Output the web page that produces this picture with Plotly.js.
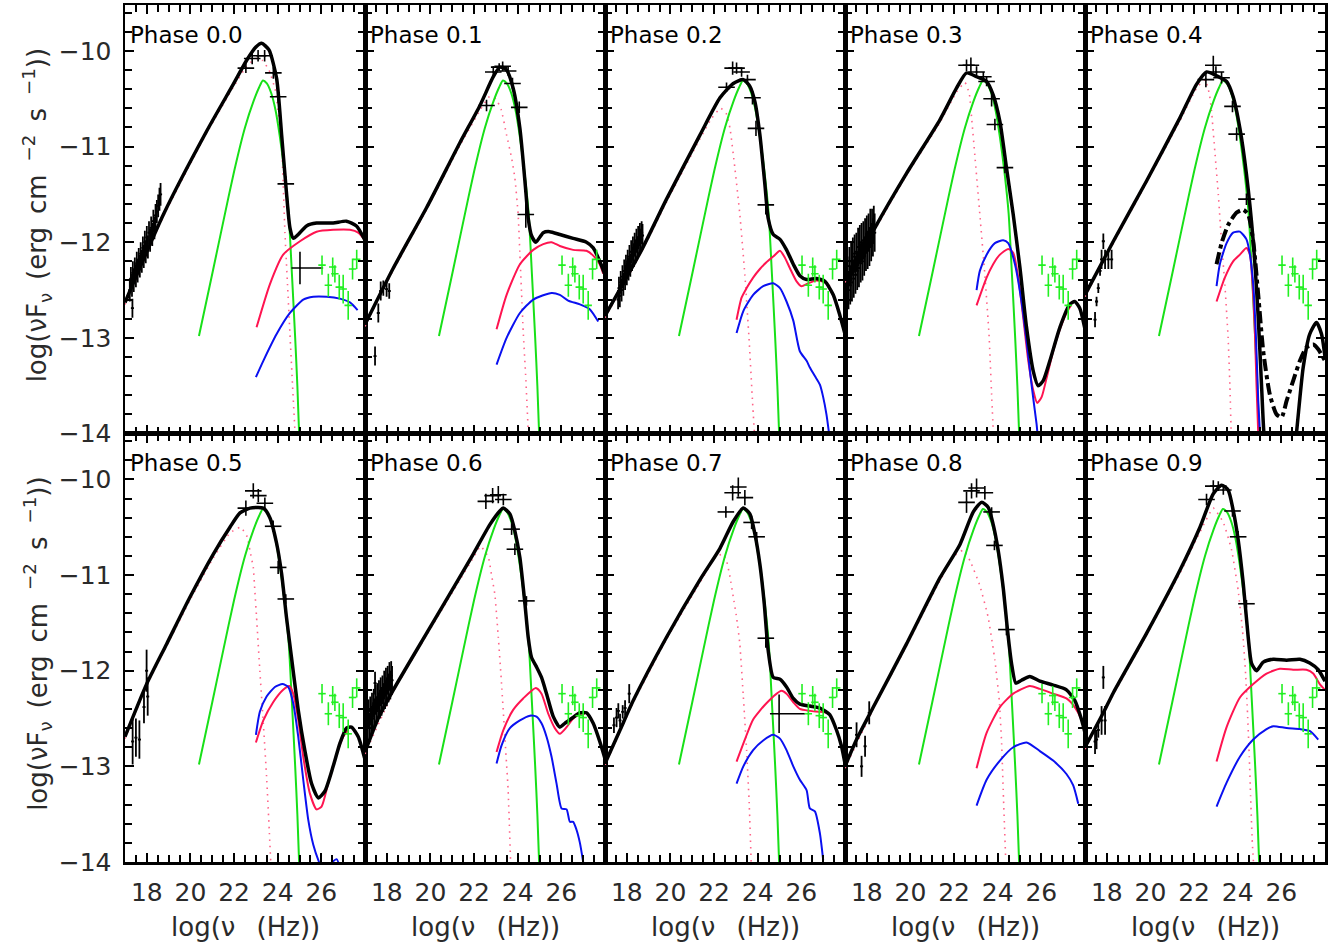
<!DOCTYPE html>
<html>
<head>
<meta charset="utf-8">
<script src="https://cdn.plot.ly/plotly-3.0.1.min.js"></script>
<style>html,body{margin:0;padding:0;background:#fff;}#chart{width:1338px;height:948px;}</style>
</head>
<body>
<div id="chart"></div>
<script>
// ---------------- DATA ----------------
const phases = ['0.0','0.1','0.2','0.3','0.4','0.5','0.6','0.7','0.8','0.9'];
const xTickVals = [18,20,22,24,26];
const xTickText = ['18','20','22','24','26'];
const yTickVals = [-14,-13,-12,-11,-10];
const yTickText = ['\u221214','\u221213','\u221212','\u221211','\u221210'];

// green component (identical in every phase)
const greenX = [20.39,21.0,21.5,22.0,22.5,22.9,23.15,23.32,23.5,23.7,23.9,24.1,24.3,24.5,24.65,24.8,24.9,24.98];
const greenY = [-12.98,-12.33,-11.79,-11.26,-10.8,-10.52,-10.38,-10.31,-10.34,-10.44,-10.62,-10.9,-11.25,-11.7,-12.33,-13.0,-13.5,-14.0];

// TeV data (identical in every phase)
const tevX = [26.03,26.32,26.52,26.62,26.82,27.0,27.23,27.43,27.62];
const tevY = [-12.24,-12.45,-12.26,-12.33,-12.47,-12.49,-12.66,-12.28,-12.18];
const tevYerr = [0.1,0.12,0.1,0.09,0.13,0.15,0.15,0.11,0.1];
const tevXerr = [0.17,0.17,0.17,0.17,0.17,0.17,0.17,0.17,0.17];

// ---- Phase 0.0
const tot00x = [17,18.76,20.74,21.96,22.57,23.0,23.26,23.6,23.95,24.18,24.37,24.56,24.72,24.94,25.32,25.78,26.54,27.15,27.61,28.0];
const tot00y = [-12.63,-11.71,-10.84,-10.35,-10.1,-9.96,-9.92,-9.99,-10.29,-10.88,-11.4,-11.85,-11.96,-11.92,-11.83,-11.8,-11.8,-11.78,-11.83,-11.98];
const red00x = [23.03,23.64,24.25,25.02,25.78,26.54,27.31,27.69,28.0];
const red00y = [-12.89,-12.44,-12.13,-11.99,-11.89,-11.87,-11.87,-11.9,-11.98];
const blue00x = [23.0,23.34,23.95,24.56,25.17,25.63,26.24,26.85,27.31,27.66];
const blue00y = [-13.41,-13.24,-12.96,-12.74,-12.6,-12.57,-12.57,-12.59,-12.63,-12.71];
const dot00x = [17,18.76,20.74,21.96,22.57,23.0,23.3,23.6,23.9,24.18,24.33,24.45,24.56,24.68,24.8];
const dot00y = [-12.65,-11.73,-10.86,-10.38,-10.16,-10.08,-10.1,-10.2,-10.42,-11.0,-11.9,-12.45,-12.96,-13.5,-14.02];
const xr00x = [17.22,17.27,17.32,17.36,17.4,17.45,17.5,17.54,17.58,17.63,17.68,17.72,17.77,17.82,17.86,17.91,17.95,18.0,18.05,18.1,18.15,18.2,18.25,18.3,18.35,18.4,18.46,18.52,18.58,18.63,17.34];
const xr00y = [-12.5,-12.38,-12.45,-12.32,-12.4,-12.28,-12.35,-12.22,-12.3,-12.18,-12.25,-12.12,-12.2,-12.06,-12.15,-12.0,-12.1,-11.95,-12.05,-11.9,-11.98,-11.85,-11.92,-11.78,-11.85,-11.72,-11.68,-11.62,-11.55,-11.5,-12.69];
const xr00e = [0.12,0.12,0.12,0.12,0.12,0.12,0.12,0.12,0.12,0.12,0.12,0.12,0.12,0.12,0.12,0.12,0.12,0.12,0.12,0.12,0.12,0.12,0.12,0.12,0.12,0.12,0.12,0.12,0.12,0.12,0.1];
const fe00x = [22.54,22.83,23.1,23.4,23.8,24.02,24.37];
const fe00y = [-10.18,-10.08,-10.05,-10.05,-10.23,-10.48,-11.39];
const fe00e = [0.05,0.06,0.06,0.06,0.06,0.06,0.08];
const big00 = {x:[25.02], y:[-12.27], xm:[0.39], xp:[1.06], e:[0.17]};

// ---- Phase 0.1
const tot01x = [17,18.3,19.82,21.35,22.27,22.88,23.18,23.49,23.79,24.1,24.33,24.48,24.63,24.83,25.17,25.47,25.93,26.54,27.15,27.46,27.76,28.0];
const tot01y = [-12.86,-12.27,-11.64,-10.96,-10.57,-10.27,-10.17,-10.2,-10.39,-10.81,-11.36,-11.75,-11.93,-12.0,-11.9,-11.89,-11.92,-11.96,-12.0,-12.06,-12.2,-12.34];
const red01x = [23.03,23.49,24.1,24.71,25.17,25.55,25.93,26.54,27.15,27.46,27.76,27.92];
const red01y = [-12.91,-12.55,-12.23,-12.08,-12.02,-12.0,-12.04,-12.08,-12.09,-12.14,-12.23,-12.33];
const blue01x = [23.03,23.49,24.1,24.71,25.55,25.93,26.31,26.85,27.3,27.69];
const blue01y = [-13.28,-13.0,-12.74,-12.6,-12.53,-12.55,-12.61,-12.65,-12.7,-12.83];
const dot01x = [17,18.3,19.82,21.35,22.27,22.7,23.0,23.25,23.49,23.72,23.87,24.02,24.1,24.18,24.25,24.36,24.48];
const dot01y = [-12.88,-12.29,-11.66,-10.99,-10.62,-10.48,-10.5,-10.62,-10.88,-11.12,-11.33,-11.71,-12.13,-12.55,-12.93,-13.38,-13.97];
const xr01x = [17.61,17.72,17.84,17.99,18.11,17.46];
const xr01y = [-12.74,-12.51,-12.48,-12.49,-12.51,-13.19];
const xr01e = [0.1,0.1,0.08,0.08,0.08,0.1];
const fe01x = [22.57,22.88,23.15,23.31,23.56,23.76,24.07,24.37];
const fe01y = [-10.57,-10.22,-10.17,-10.16,-10.21,-10.34,-10.59,-11.71];
const fe01e = [0.06,0.06,0.04,0.05,0.05,0.06,0.06,0.14];

// ---- Phase 0.2
const tot02x = [17,18.68,19.82,21.35,22.27,22.88,23.34,23.64,23.87,24.1,24.33,24.48,24.71,25.02,25.32,25.63,25.93,26.24,26.69,27.08,27.46,27.76,28.0];
const tot02y = [-12.77,-12.08,-11.55,-10.88,-10.49,-10.34,-10.3,-10.37,-10.53,-10.88,-11.4,-11.75,-11.92,-11.97,-12.08,-12.23,-12.35,-12.39,-12.38,-12.41,-12.55,-12.76,-12.96];
const red02x = [23.03,23.26,23.49,23.79,24.1,24.4,24.71,25.02,25.24,25.47,25.78,26.0,26.31,26.69,27.08,27.3];
const red02y = [-12.81,-12.58,-12.48,-12.37,-12.28,-12.21,-12.15,-12.09,-12.16,-12.27,-12.41,-12.46,-12.43,-12.4,-12.42,-12.46];
const blue02x = [23.03,23.34,23.79,24.25,24.71,25.02,25.32,25.63,25.93,26.24,26.39,26.62,26.85,27.0,27.15,27.27];
const blue02y = [-12.95,-12.72,-12.55,-12.46,-12.43,-12.48,-12.62,-12.82,-13.14,-13.24,-13.31,-13.4,-13.49,-13.62,-13.8,-14.0];
const dot02x = [17,18.68,19.82,21.35,21.9,22.3,22.55,22.73,22.95,23.18,23.41,23.6,23.76,23.85];
const dot02y = [-12.79,-12.1,-11.58,-10.92,-10.7,-10.6,-10.65,-10.81,-11.22,-11.71,-12.34,-13.0,-13.66,-14.0];
const xr02x = [17.6,17.64,17.68,17.72,17.76,17.8,17.84,17.88,17.92,17.96,18.0,18.04,18.08,18.12,18.16,18.2,18.24,18.28,18.32,18.36,18.4,18.44,18.48,18.52,18.56,18.6,18.64,18.68,18.72];
const xr02y = [-12.6,-12.48,-12.56,-12.42,-12.5,-12.36,-12.44,-12.3,-12.38,-12.25,-12.33,-12.2,-12.28,-12.15,-12.24,-12.1,-12.18,-12.06,-12.14,-12.02,-12.1,-11.98,-12.06,-11.95,-12.02,-11.92,-11.98,-11.9,-11.93];
const xr02e = [0.1,0.12,0.12,0.12,0.12,0.12,0.12,0.12,0.12,0.12,0.12,0.12,0.12,0.12,0.12,0.12,0.12,0.12,0.12,0.12,0.12,0.12,0.12,0.12,0.12,0.12,0.12,0.12,0.12];
const fe02x = [22.57,22.85,23.03,23.26,23.53,23.76,23.92,24.37];
const fe02y = [-10.38,-10.18,-10.18,-10.22,-10.3,-10.49,-10.81,-11.61];
const fe02e = [0.05,0.07,0.06,0.05,0.05,0.07,0.08,0.1];

// ---- Phase 0.3
const tot03x = [17,17.8,18.37,19.82,21.35,22.11,22.57,23.03,23.49,23.79,24.1,24.4,24.71,25.02,25.32,25.63,25.85,26.08,26.39,26.85,27.3,27.53,27.76,28.0];
const tot03y = [-12.4,-12.1,-11.85,-11.28,-10.72,-10.39,-10.23,-10.27,-10.32,-10.46,-10.74,-11.22,-11.71,-12.27,-12.89,-13.35,-13.5,-13.45,-13.24,-12.89,-12.65,-12.62,-12.69,-12.91];
const red03x = [23.03,23.49,23.79,24.1,24.48,24.71,24.94,25.17,25.4,25.63,25.81,26.01,26.24,26.54,26.85,27.15,27.38];
const red03y = [-12.66,-12.37,-12.23,-12.13,-12.07,-12.11,-12.37,-12.79,-13.24,-13.55,-13.68,-13.62,-13.42,-13.14,-12.91,-12.74,-12.65];
const blue03x = [23.03,23.18,23.49,23.87,24.25,24.48,24.79,25.09,25.32,25.55,25.78,25.95,26.3,26.54,26.75];
const blue03y = [-12.5,-12.3,-12.13,-12.01,-11.98,-12.01,-12.23,-12.62,-13.03,-13.49,-13.9,-14.2,-14.1,-13.98,-14.2];
const dot03x = [17,18.37,19.82,21.35,22.11,22.5,22.7,22.8,22.95,23.18,23.41,23.6,23.72,23.8];
const dot03y = [-12.42,-11.87,-11.3,-10.75,-10.43,-10.33,-10.45,-10.69,-11.09,-11.71,-12.34,-12.96,-13.59,-14.0];
const xr03x = [17.12,17.16,17.2,17.24,17.28,17.32,17.36,17.4,17.44,17.48,17.52,17.56,17.6,17.64,17.68,17.72,17.76,17.8,17.84,17.88,17.92,17.96,18.0,18.04,18.08,18.12,18.16,18.2,18.24,18.28,18.32,18.36];
const xr03y = [-12.35,-12.5,-12.25,-12.45,-12.2,-12.42,-12.15,-12.38,-12.12,-12.34,-12.1,-12.3,-12.05,-12.27,-12.02,-12.22,-12.0,-12.2,-11.98,-12.15,-11.95,-12.1,-11.92,-12.08,-11.9,-12.05,-11.85,-12.0,-11.85,-11.95,-11.82,-11.9];
const xr03e = [0.2,0.2,0.2,0.2,0.2,0.2,0.2,0.2,0.2,0.2,0.2,0.2,0.2,0.2,0.2,0.2,0.2,0.2,0.2,0.2,0.2,0.2,0.2,0.2,0.2,0.2,0.2,0.2,0.2,0.2,0.2,0.2];
const fe03x = [22.57,22.77,23.03,23.34,23.49,23.72,23.87,24.33];
const fe03y = [-10.15,-10.15,-10.22,-10.27,-10.32,-10.5,-10.77,-11.22];
const fe03e = [0.06,0.08,0.06,0.05,0.05,0.08,0.06,0.06];

// ---- Phase 0.4
const tot04x = [17,18.3,19.82,21.35,22.11,22.57,23.03,23.49,23.79,24.1,24.4,24.71,24.94,25.09,25.2,25.6,26.2,26.69,27.0,27.3,27.61,27.84,28.0];
const tot04y = [-12.55,-11.99,-11.36,-10.7,-10.35,-10.22,-10.26,-10.32,-10.48,-10.81,-11.29,-11.99,-12.79,-13.49,-14.0,-15.0,-15.0,-14.0,-13.31,-12.96,-12.84,-12.96,-13.2];
const dash04x = [23.03,23.26,23.56,23.95,24.25,24.48,24.71,24.94,25.17,25.47,25.78,26.01,26.24,26.54,26.85,27.15,27.46,27.69,28.0];
const dash04y = [-12.23,-12.01,-11.82,-11.69,-11.66,-11.71,-11.99,-12.55,-13.14,-13.59,-13.8,-13.83,-13.66,-13.45,-13.24,-13.1,-13.07,-13.12,-13.24];
const red04x = [23.03,23.41,23.79,24.1,24.4,24.56,24.68,24.79,24.86,24.94];
const red04y = [-12.62,-12.37,-12.2,-12.13,-12.06,-12.13,-12.44,-12.96,-13.49,-14.0];
const blue04x = [23.03,23.18,23.49,23.79,24.1,24.4,24.56,24.71,24.83,24.94,25.02];
const blue04y = [-12.46,-12.23,-12.01,-11.9,-11.89,-11.97,-12.13,-12.44,-12.96,-13.66,-14.0];
const dot04x = [17,18.3,19.82,21.35,22.11,22.5,22.7,22.8,22.95,23.11,23.26,23.41,23.56,23.64,23.7];
const dot04y = [-12.57,-12.01,-11.38,-10.73,-10.39,-10.3,-10.45,-10.63,-11.05,-11.5,-12.01,-12.44,-13.0,-13.49,-14.0];
const xr04x = [17.84,17.76,17.92,18.07,18.22,17.69,17.61,17.53,17.46];
const xr04y = [-11.99,-12.18,-12.18,-12.18,-12.18,-12.3,-12.48,-12.62,-12.81];
const xr04e = [0.08,0.1,0.1,0.1,0.1,0.05,0.05,0.05,0.08];
const fe04x = [22.54,22.88,23.0,23.26,23.76,23.95,24.4];
const fe04y = [-10.3,-10.15,-10.22,-10.28,-10.58,-10.87,-11.55];
const fe04e = [0.08,0.1,0.06,0.06,0.06,0.07,0.06];

// ---- Phase 0.5
const tot05x = [17,17.99,18.91,19.98,21.05,21.81,22.27,22.73,23.34,23.64,23.95,24.18,24.4,24.63,24.94,25.24,25.55,25.86,26.16,26.54,26.85,27.15,27.38,27.69,28.0];
const tot05y = [-12.69,-12.14,-11.72,-11.23,-10.78,-10.5,-10.35,-10.3,-10.3,-10.4,-10.67,-10.99,-11.44,-11.86,-12.41,-12.83,-13.18,-13.33,-13.26,-13.0,-12.76,-12.6,-12.59,-12.69,-12.93];
const red05x = [23.0,23.34,23.79,24.25,24.53,24.71,24.94,25.17,25.47,25.78,26.01,26.31,26.69,27.0,27.23];
const red05y = [-12.75,-12.52,-12.33,-12.2,-12.16,-12.24,-12.51,-12.9,-13.28,-13.45,-13.42,-13.18,-12.88,-12.69,-12.62];
const blue05x = [23.0,23.18,23.49,23.87,24.22,24.48,24.71,24.94,25.17,25.4,25.63,25.86,26.1,26.5,26.7,26.9];
const blue05y = [-12.67,-12.43,-12.27,-12.17,-12.14,-12.17,-12.34,-12.69,-13.14,-13.56,-13.82,-13.98,-14.1,-14.0,-13.97,-14.1];
const dot05x = [17,17.99,18.91,19.98,21.05,21.81,22.3,22.6,22.73,22.88,22.95,23.03,23.18,23.34,23.49,23.61,23.68];
const dot05y = [-12.71,-12.16,-11.74,-11.26,-10.82,-10.56,-10.5,-10.6,-10.75,-10.92,-11.16,-11.44,-12.0,-12.55,-13.11,-13.66,-14.0];
const xr05x = [17.35,17.5,17.66,17.87,17.99,18.04];
const xr05y = [-12.74,-12.7,-12.72,-12.38,-12.0,-12.27];
const xr05e = [0.24,0.2,0.2,0.17,0.22,0.2];
const fe05x = [22.54,22.88,23.11,23.41,23.79,24.02,24.37];
const fe05y = [-10.3,-10.12,-10.17,-10.25,-10.49,-10.92,-11.25];
const fe05e = [0.08,0.08,0.07,0.06,0.06,0.07,0.05];

// ---- Phase 0.6
const tot06x = [17,17.6,18.3,19.82,21.35,21.96,22.73,23.18,23.34,23.64,23.87,24.1,24.33,24.48,24.63,24.86,25.09,25.32,25.63,25.93,26.16,26.47,26.85,27.15,27.46,27.76,28.0];
const tot06y = [-12.85,-12.5,-12.2,-11.61,-11.02,-10.78,-10.47,-10.33,-10.3,-10.36,-10.54,-10.82,-11.3,-11.65,-11.86,-11.96,-12.07,-12.24,-12.48,-12.59,-12.55,-12.5,-12.44,-12.44,-12.55,-12.74,-12.92];
const red06x = [23.03,23.34,23.79,24.25,24.83,25.09,25.4,25.7,25.93,26.24,26.54,26.85,27.08];
const red06y = [-12.85,-12.62,-12.41,-12.29,-12.18,-12.24,-12.45,-12.6,-12.66,-12.59,-12.5,-12.45,-12.45];
const blue06x = [23.03,23.26,23.64,24.1,24.56,24.86,25.09,25.32,25.55,25.78,26.01,26.24,26.39,26.54,26.69,26.85,27.0];
const blue06y = [-12.97,-12.78,-12.6,-12.52,-12.47,-12.48,-12.55,-12.69,-12.9,-13.18,-13.44,-13.45,-13.58,-13.58,-13.66,-13.8,-14.0];
const dot06x = [17,18.3,19.82,21.35,21.96,22.3,22.65,22.8,22.95,23.11,23.26,23.41,23.56,23.67];
const dot06y = [-12.87,-12.22,-11.63,-11.05,-10.82,-10.7,-10.81,-11.0,-11.2,-11.65,-12.14,-12.69,-13.25,-13.98];
const xr06x = [17.12,17.16,17.2,17.24,17.28,17.32,17.36,17.4,17.44,17.48,17.52,17.56,17.6,17.64,17.68,17.72,17.76,17.8,17.84,17.88,17.92,17.96,18.0,18.04,18.08,18.12,18.16,18.2,18.24,17.46];
const xr06y = [-12.55,-12.45,-12.6,-12.42,-12.52,-12.38,-12.5,-12.34,-12.45,-12.3,-12.42,-12.28,-12.38,-12.25,-12.35,-12.22,-12.32,-12.2,-12.28,-12.15,-12.25,-12.12,-12.22,-12.1,-12.18,-12.06,-12.15,-12.05,-12.1,-12.13];
const xr06e = [0.15,0.15,0.15,0.15,0.15,0.15,0.15,0.15,0.15,0.15,0.15,0.15,0.15,0.15,0.15,0.15,0.15,0.15,0.15,0.15,0.15,0.15,0.15,0.15,0.15,0.15,0.15,0.15,0.15,0.12];
const fe06x = [22.54,22.85,23.11,23.34,23.72,23.87,24.4];
const fe06y = [-10.23,-10.17,-10.16,-10.21,-10.52,-10.73,-11.27];
const fe06e = [0.08,0.08,0.09,0.06,0.06,0.06,0.05];

// ---- Phase 0.7
const tot07x = [17,17.69,18.3,19.82,21.35,22.27,22.88,23.34,23.64,23.87,24.1,24.3,24.48,24.71,25.02,25.32,25.63,25.93,26.39,26.85,27.3,27.61,27.84,28.0];
const tot07y = [-12.97,-12.62,-12.31,-11.65,-11.05,-10.72,-10.44,-10.3,-10.36,-10.57,-10.89,-11.3,-11.79,-12.07,-12.09,-12.17,-12.29,-12.35,-12.37,-12.39,-12.46,-12.62,-12.79,-12.97];
const red07x = [23.03,23.41,23.79,24.4,25.09,25.32,25.63,25.93,26.39,26.85,27.15];
const red07y = [-12.95,-12.72,-12.51,-12.34,-12.21,-12.24,-12.33,-12.4,-12.42,-12.43,-12.44];
const blue07x = [23.03,23.34,23.79,24.25,24.71,25.02,25.32,25.63,25.93,26.24,26.39,26.62,26.85,27.0];
const blue07y = [-13.18,-13.0,-12.83,-12.73,-12.67,-12.71,-12.83,-13.0,-13.14,-13.25,-13.44,-13.47,-13.7,-13.98];
const dot07x = [17,18.3,19.82,21.35,22.04,22.4,22.57,22.73,22.88,23.03,23.18,23.34,23.49,23.61,23.7];
const dot07y = [-12.99,-12.33,-11.67,-11.08,-10.82,-10.78,-10.85,-11.02,-11.23,-11.44,-11.72,-12.27,-12.83,-13.39,-14.0];
const xr07x = [17.41,17.53,17.61,17.69,17.81,17.92,18.11];
const xr07y = [-12.57,-12.49,-12.42,-12.52,-12.43,-12.39,-12.24];
const xr07e = [0.08,0.1,0.08,0.07,0.07,0.08,0.1];
const fe07x = [22.54,22.85,23.11,23.41,23.72,23.95,24.37];
const fe07y = [-10.34,-10.14,-10.08,-10.19,-10.45,-10.6,-11.66];
const fe07e = [0.06,0.08,0.1,0.08,0.07,0.05,0.1];
const big07 = {x:[24.98], y:[-12.45], xm:[0.42], xp:[1.18], e:[0.2]};

// ---- Phase 0.8
const tot08x = [17,17.53,18.3,19.82,21.35,22.27,22.88,23.26,23.56,23.79,24.02,24.25,24.45,24.63,24.83,25.09,25.47,25.93,26.54,27.15,27.53,27.84,28.0];
const tot08y = [-13.0,-12.72,-12.38,-11.72,-11.03,-10.68,-10.34,-10.24,-10.29,-10.47,-10.74,-11.13,-11.58,-11.92,-12.13,-12.1,-12.06,-12.11,-12.15,-12.2,-12.31,-12.51,-12.65];
const red08x = [23.03,23.49,24.1,24.71,25.47,25.93,26.54,27.15,27.53,27.84,28.0];
const red08y = [-13.02,-12.65,-12.38,-12.24,-12.16,-12.19,-12.24,-12.29,-12.38,-12.51,-12.62];
const blue08x = [23.03,23.49,24.1,24.71,25.32,25.93,26.54,27.15,27.46,27.69];
const blue08y = [-13.41,-13.14,-12.94,-12.8,-12.75,-12.84,-12.94,-13.08,-13.2,-13.39];
const dot08x = [17,18.3,19.82,21.35,22.0,22.42,22.73,23.18,23.56,23.87,24.07,24.18,24.25,24.36];
const dot08y = [-13.02,-12.4,-11.74,-11.06,-10.8,-10.74,-10.85,-11.11,-11.44,-11.89,-12.31,-12.76,-13.24,-13.94];
const xr08x = [17.53,17.76,17.92,18.11];
const xr08y = [-12.67,-13.0,-12.79,-12.44];
const xr08e = [0.13,0.11,0.11,0.12];
const fe08x = [22.57,22.8,23.03,23.41,23.72,23.85,24.4];
const fe08y = [-10.24,-10.12,-10.09,-10.14,-10.34,-10.69,-11.57];
const fe08e = [0.11,0.08,0.1,0.07,0.05,0.05,0.06];

// ---- Phase 0.9
const tot09x = [17,17.84,18.3,19.82,21.35,22.27,22.88,23.26,23.56,23.79,24.02,24.25,24.48,24.63,24.86,25.17,25.63,26.24,26.85,27.3,27.69,28.0];
const tot09y = [-12.8,-12.44,-12.23,-11.61,-10.95,-10.5,-10.15,-10.06,-10.11,-10.32,-10.63,-11.08,-11.65,-11.92,-12.0,-11.91,-11.88,-11.89,-11.88,-11.92,-11.99,-12.11];
const red09x = [23.03,23.49,24.1,24.71,25.32,25.93,26.54,27.15,27.46,27.76,28.0];
const red09y = [-12.95,-12.59,-12.28,-12.14,-12.03,-11.98,-11.99,-11.99,-12.03,-12.14,-12.2];
const blue09x = [23.03,23.49,24.1,24.71,25.32,25.63,26.24,26.85,27.3,27.69];
const blue09y = [-13.42,-13.17,-12.9,-12.72,-12.61,-12.58,-12.6,-12.61,-12.63,-12.72];
const dot09x = [17,18.3,19.82,21.35,22.27,22.88,23.34,23.72,24.02,24.22,24.36,24.45,24.53,24.59,24.66,24.72];
const dot09y = [-12.82,-12.25,-11.63,-10.98,-10.55,-10.3,-10.45,-10.74,-11.16,-11.58,-12.03,-12.45,-12.9,-13.31,-13.76,-14.0];
const xr09x = [17.46,17.53,17.61,17.76,17.84,17.92];
const xr09y = [-12.74,-12.72,-12.62,-12.52,-12.07,-12.52];
const xr09e = [0.13,0.1,0.08,0.15,0.12,0.15];
const fe09x = [22.57,22.88,23.11,23.34,23.76,24.02,24.4];
const fe09y = [-10.21,-10.07,-10.07,-10.11,-10.33,-10.6,-11.3];
const fe09e = [0.06,0.06,0.05,0.05,0.06,0.06,0.04];

// ---------------- BUILD ----------------
const panels = [
  {tot:[tot00x,tot00y], red:[red00x,red00y], blue:[blue00x,blue00y], dot:[dot00x,dot00y], xr:[xr00x,xr00y,xr00e], fe:[fe00x,fe00y,fe00e], big:big00},
  {tot:[tot01x,tot01y], red:[red01x,red01y], blue:[blue01x,blue01y], dot:[dot01x,dot01y], xr:[xr01x,xr01y,xr01e], fe:[fe01x,fe01y,fe01e]},
  {tot:[tot02x,tot02y], red:[red02x,red02y], blue:[blue02x,blue02y], dot:[dot02x,dot02y], xr:[xr02x,xr02y,xr02e], fe:[fe02x,fe02y,fe02e]},
  {tot:[tot03x,tot03y], red:[red03x,red03y], blue:[blue03x,blue03y], dot:[dot03x,dot03y], xr:[xr03x,xr03y,xr03e], fe:[fe03x,fe03y,fe03e]},
  {tot:[tot04x,tot04y], red:[red04x,red04y], blue:[blue04x,blue04y], dot:[dot04x,dot04y], xr:[xr04x,xr04y,xr04e], fe:[fe04x,fe04y,fe04e], dash:[dash04x,dash04y]},
  {tot:[tot05x,tot05y], red:[red05x,red05y], blue:[blue05x,blue05y], dot:[dot05x,dot05y], xr:[xr05x,xr05y,xr05e], fe:[fe05x,fe05y,fe05e]},
  {tot:[tot06x,tot06y], red:[red06x,red06y], blue:[blue06x,blue06y], dot:[dot06x,dot06y], xr:[xr06x,xr06y,xr06e], fe:[fe06x,fe06y,fe06e]},
  {tot:[tot07x,tot07y], red:[red07x,red07y], blue:[blue07x,blue07y], dot:[dot07x,dot07y], xr:[xr07x,xr07y,xr07e], fe:[fe07x,fe07y,fe07e], big:big07},
  {tot:[tot08x,tot08y], red:[red08x,red08y], blue:[blue08x,blue08y], dot:[dot08x,dot08y], xr:[xr08x,xr08y,xr08e], fe:[fe08x,fe08y,fe08e]},
  {tot:[tot09x,tot09y], red:[red09x,red09y], blue:[blue09x,blue09y], dot:[dot09x,dot09y], xr:[xr09x,xr09y,xr09e], fe:[fe09x,fe09y,fe09e]}
];

const C = {black:'#000000', green:'#18e018', red:'#ff1450', blue:'#0a10f0', pink:'#ff6488', tev:'#22f022'};
const FONT = 'DejaVu Sans, Arial, sans-serif';
const traces = [];
const layout = {
  width:1338, height:948, showlegend:false,
  margin:{l:125, r:13, t:5, b:86},
  paper_bgcolor:'#fff', plot_bgcolor:'#fff',
  font:{family:FONT, size:24, color:'#2a2a2a'},
  annotations:[]
};

function lineTrace(xa, ya, k, color, width, dash, sm) {
  return {x:xa, y:ya, xaxis:'x'+(k===1?'':k), yaxis:'y'+(k===1?'':k), mode:'lines',
    line:{color:color, width:width, dash:dash||'solid', shape:'spline', smoothing:(sm===undefined?0.6:sm)},
    hoverinfo:'skip'};
}
function errTrace(xa, ya, ye, xe, k, color, thick) {
  return {x:xa, y:ya, xaxis:'x'+(k===1?'':k), yaxis:'y'+(k===1?'':k), mode:'markers',
    marker:{size:2, color:color},
    error_y:{type:'data', array:ye, thickness:thick, width:0, color:color},
    error_x:{type:'data', array:xe, thickness:thick, width:0, color:color},
    hoverinfo:'skip'};
}
function constArr(n, v){ const a=[]; for(let i=0;i<n;i++) a.push(v); return a; }

panels.forEach((p, i) => {
  const k = i + 1;
  const r = Math.floor(i / 5), c = i % 5;
  const xs = k===1 ? '' : k;
  traces.push(lineTrace(p.dot[0], p.dot[1], k, C.pink, 1.6, '1.5px,5px', 0.4));
  traces.push(lineTrace(greenX, greenY, k, C.green, 2));
  traces.push(lineTrace(p.red[0], p.red[1], k, C.red, 2));
  traces.push(lineTrace(p.blue[0], p.blue[1], k, C.blue, 2));
  if (p.dash) traces.push(lineTrace(p.dash[0], p.dash[1], k, C.black, 4, 'dashdot'));
  traces.push(lineTrace(p.tot[0], p.tot[1], k, C.black, 3.5));
  traces.push(errTrace(p.xr[0], p.xr[1], p.xr[2], constArr(p.xr[0].length, 0.07), k, C.black, 1.8));
  traces.push(errTrace(p.fe[0], p.fe[1], p.fe[2], constArr(p.fe[0].length, 0.38), k, C.black, 1.6));
  if (p.big) {
    traces.push({x:p.big.x, y:p.big.y, xaxis:'x'+xs, yaxis:'y'+xs, mode:'markers', marker:{size:2,color:C.black},
      error_y:{type:'data', array:p.big.e, thickness:1.6, width:0, color:C.black},
      error_x:{type:'data', symmetric:false, array:p.big.xp, arrayminus:p.big.xm, thickness:1.6, width:0, color:C.black},
      hoverinfo:'skip'});
  }
  traces.push(errTrace(tevX, tevY, tevYerr, tevXerr, k, C.tev, 1.6));

  layout['xaxis'+xs] = {
    domain:[c/5, (c+1)/5], range:[17,28], anchor:'y'+xs,
    showline:true, linewidth:2.5, linecolor:'#000', mirror:'allticks',
    ticks:'inside', ticklen:9, tickwidth:2, tickcolor:'#000',
    tickvals:xTickVals, ticktext:xTickText, showticklabels:(r===1),
    ticklabelstandoff:6,
    tickfont:{family:FONT, size:25, color:'#2a2a2a'},
    minor:{dtick:0.5, tick0:17, ticks:'inside', ticklen:7, tickwidth:2, tickcolor:'#000', showgrid:false},
    showgrid:false, zeroline:false, fixedrange:true
  };
  layout['yaxis'+xs] = {
    domain: r===0 ? [0.5,1] : [0,0.5], range:[-14,-9.52], anchor:'x'+xs,
    showline:true, linewidth:2.5, linecolor:'#000', mirror:'allticks',
    ticks:'inside', ticklen:9, tickwidth:2, tickcolor:'#000',
    tickvals:yTickVals, ticktext:yTickText, showticklabels:(c===0),
    ticklabelstandoff:6,
    tickfont:{family:FONT, size:25, color:'#2a2a2a'},
    minor:{dtick:0.2, tick0:-14, ticks:'inside', ticklen:7, tickwidth:2, tickcolor:'#000', showgrid:false},
    showgrid:false, zeroline:false, fixedrange:true
  };
  layout.annotations.push({
    text:'Phase ' + phases[i], xref:'x'+xs+' domain', yref:'y'+xs+' domain',
    x:0.012, y:0.93, xanchor:'left', yanchor:'middle', showarrow:false,
    font:{family:FONT, size:23, color:'#000'}
  });
});

// axis titles (as annotations so they sit exactly)
const yTitle = 'log(\u03BDF<sub>\u03BD</sub>\u2002(erg\u2002cm\u2002<sup>\u22122</sup>\u2002s\u2002<sup>\u22121</sup>))';
[0.755, 0.255].forEach(yy => {
  layout.annotations.push({text:yTitle, xref:'paper', yref:'paper', x:-0.073, y:yy,
    xanchor:'center', yanchor:'middle', textangle:-90, showarrow:false,
    font:{family:FONT, size:26, color:'#2a2a2a'}});
});
const xTitle = 'log(\u03BD\u2002 (Hz))';
for (let c = 0; c < 5; c++) {
  layout.annotations.push({text:xTitle, xref:'paper', yref:'paper', x:c*0.2+0.1, y:-0.076,
    xanchor:'center', yanchor:'middle', showarrow:false,
    font:{family:FONT, size:26, color:'#2a2a2a'}});
}

Plotly.newPlot('chart', traces, layout, {staticPlot:true, displayModeBar:false});
</script>
</body>
</html>
